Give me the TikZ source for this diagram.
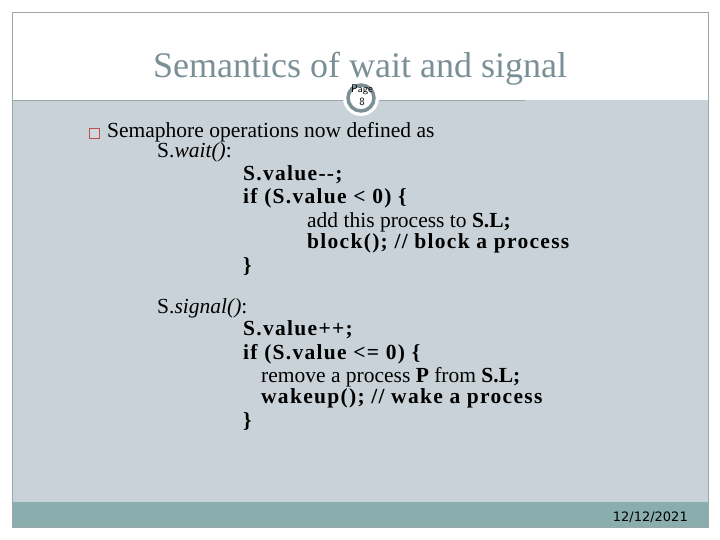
\documentclass[tikz,border=0pt]{standalone}
\usepackage{fontspec}
\setmainfont{Liberation Serif}
\newfontfamily\datefont{DejaVu Sans}
\definecolor{bodyg}{HTML}{C8D2D8}
\definecolor{barg}{HTML}{8AAEAD}
\definecolor{frameg}{HTML}{9AA6A8}
\definecolor{titleg}{HTML}{7A9096}
\definecolor{ringg}{HTML}{7A9096}
\definecolor{bulletc}{HTML}{C0504D}
\tikzset{txt/.style={anchor=base west,inner sep=0pt,font=\fontsize{21.5}{22}\selectfont},
code/.style={txt,font=\fontsize{21.5}{22}\selectfont\bfseries\addfontfeature{LetterSpace=6}},
pg/.style={inner sep=0pt,font=\sffamily\fontsize{11}{11}\selectfont}}
\begin{document}
\begin{tikzpicture}[x=1pt,y=-1pt]
\useasboundingbox (0,0) rectangle (720,540);
\fill[white] (0,0) rectangle (720,540);
\fill[bodyg] (12,100) rectangle (708,502);
\fill[barg] (12,502) rectangle (708,527);
\draw[frameg] (12,12) rectangle (708,527);
\draw[frameg] (12,100) -- (525,100);
\node[inner sep=0pt,anchor=base,text=titleg,font=\fontsize{36}{38}\selectfont] (title) at (360,78) {Semantics of wait and signal};
\fill[white] (361,98) circle (18);
\draw[ringg,line width=3.5pt] (361,98) circle (13);
\node[pg,anchor=base] (page) at (362,93) {Page};
\node[pg,anchor=base] (pnum) at (362,106) {8};
\node[draw=bulletc,minimum size=10pt,inner sep=0pt,anchor=south west,fill=white!10!bodyg] (bul) at (89,138) {};
\node[txt] (l0) at (107,138) {Semaphore operations now defined as};
\node[txt] (w) at (157,158) {S.\textit{wait()}:};
\node[code] (c1) at (243,181) {S.value{-}{-};};
\node[code] (c2) at (243,204) {if (S.value < 0) \{};
\node[txt] (c3) at (307,227) {add this process to \textbf{S.L;}};
\node[code] (c4) at (307,248) {block(); // block a process};
\node[code] (c5) at (243,272) {\}};
\node[txt] (s) at (157,313) {S.\textit{signal()}:};
\node[code] (d1) at (243,335) {S.value++;};
\node[code] (d2) at (243,359) {if (S.value <= 0) \{};
\node[txt] (d3) at (261,382) {remove a process \textbf{P} from \textbf{S.L;}};
\node[code] (d4) at (261,403) {wakeup(); // wake a process};
\node[code] (d5) at (243,427) {\}};
\node[anchor=base east,inner sep=0pt,font=\datefont\fontsize{13}{14}\selectfont] (date) at (688,521) {12/12/2021};
\end{tikzpicture}
\end{document}
